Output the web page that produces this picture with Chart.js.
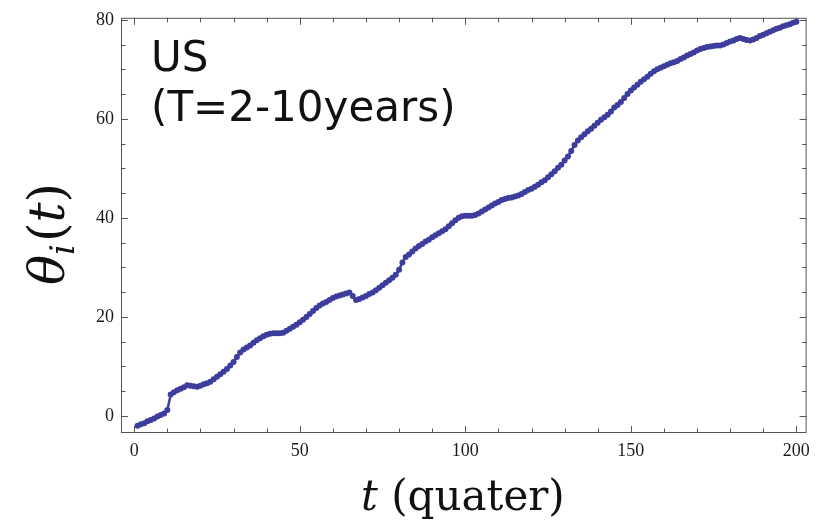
<!DOCTYPE html>
<html>
<head>
<meta charset="utf-8">
<script src="https://cdn.jsdelivr.net/npm/chart.js@4/dist/chart.umd.min.js"></script>
<style>
  html, body { margin: 0; padding: 0; background: #fff; }
  #wrap { width: 817px; height: 520px; }
</style>
</head>
<body>
<div id="wrap"><canvas id="c" width="817" height="520"></canvas></div>
<script>
// θ_i(t) for the US, T = 2-10 years, one value per quarter
const theta = [
  -2.0, -1.7, -1.5, -1.1, -0.8, -0.5, -0.1, 0.2, 0.5, 1.2,
  4.3, 4.8, 5.2, 5.5, 5.8, 6.2, 6.1, 6.0, 5.9, 6.1,
  6.4, 6.6, 6.9, 7.4, 7.9, 8.4, 8.9, 9.5, 10.2, 10.9,
  11.9, 12.8, 13.4, 13.8, 14.2, 14.8, 15.3, 15.7, 16.1, 16.4,
  16.6, 16.7, 16.7, 16.7, 16.8, 17.2, 17.6, 18.0, 18.4, 18.9,
  19.4, 20.0, 20.6, 21.2, 21.8, 22.3, 22.7, 23.0, 23.4, 23.8,
  24.1, 24.3, 24.5, 24.7, 24.9, 24.2, 23.4, 23.6, 23.9, 24.2,
  24.6, 24.9, 25.4, 25.9, 26.4, 26.9, 27.4, 27.9, 28.5, 29.5,
  31.0, 32.1, 32.6, 33.2, 33.8, 34.3, 34.7, 35.2, 35.6, 36.1,
  36.5, 36.9, 37.3, 37.7, 38.3, 38.9, 39.5, 40.0, 40.3, 40.4,
  40.4, 40.4, 40.6, 40.9, 41.3, 41.7, 42.1, 42.5, 42.9, 43.2,
  43.6, 43.8, 44.0, 44.1, 44.3, 44.5, 44.8, 45.2, 45.6, 45.9,
  46.3, 46.7, 47.2, 47.6, 48.2, 48.8, 49.4, 50.1, 50.7, 51.6,
  52.4, 53.5, 54.7, 55.6, 56.3, 56.9, 57.5, 58.0, 58.6, 59.2,
  59.8, 60.3, 60.8, 61.5, 62.3, 62.8, 63.4, 64.2, 65.0, 65.7,
  66.3, 66.9, 67.5, 68.0, 68.5, 69.1, 69.6, 70.0, 70.3, 70.6,
  70.9, 71.2, 71.4, 71.7, 72.1, 72.4, 72.8, 73.1, 73.4, 73.8,
  74.1, 74.3, 74.5, 74.6, 74.7, 74.8, 74.8, 75.0, 75.3, 75.6,
  75.8, 76.1, 76.3, 76.1, 75.9, 75.8, 76.0, 76.3, 76.7, 77.0,
  77.3, 77.6, 77.9, 78.2, 78.4, 78.7, 78.9, 79.1, 79.4, 79.6
];
// quarter index t = 1, 2, ...
const quarters = theta.map((_, i) => i + 1);

// labelled ticks and unlabelled minor ticks
const xTickLabels = [0, 50, 100, 150, 200];
const xMinorTicks = [0, 10, 20, 30, 40, 50, 60, 70, 80, 90, 100, 110, 120, 130, 140, 150, 160, 170, 180, 190, 200];
const yTickLabels = [0, 20, 40, 60, 80];
const yMinorTicks = [0, 5, 10, 15, 20, 25, 30, 35, 40, 45, 50, 55, 60, 65, 70, 75, 80];

const seriesColor = '#3d3d9d';
const frameColor = '#555555';

// closed frame with inward ticks on all four sides
const frameTicks = {
  id: 'frameTicks',
  beforeDatasetsDraw(chart) {
    const { ctx, chartArea: a, scales: { x, y } } = chart;
    ctx.save();
    ctx.strokeStyle = frameColor;
    ctx.lineWidth = 1;
    ctx.strokeRect(a.left + 0.5, a.top + 0.5, a.right - a.left - 1, a.bottom - a.top - 1);
    ctx.beginPath();
    xMinorTicks.forEach(v => {
      const px = Math.round(x.getPixelForValue(v)) + 0.5;
      const len = xTickLabels.includes(v) ? 7 : 4.5;
      ctx.moveTo(px, a.bottom); ctx.lineTo(px, a.bottom - len);
      ctx.moveTo(px, a.top); ctx.lineTo(px, a.top + len);
    });
    yMinorTicks.forEach(v => {
      const py = Math.round(y.getPixelForValue(v)) + 0.5;
      const len = yTickLabels.includes(v) ? 7 : 4.5;
      ctx.moveTo(a.left, py); ctx.lineTo(a.left + len, py);
      ctx.moveTo(a.right, py); ctx.lineTo(a.right - len, py);
    });
    ctx.stroke();
    ctx.restore();
  }
};

// draws a run of text pieces with their own fonts, left to right
function drawRuns(ctx, runs, x, y) {
  let cx = x;
  runs.forEach(r => {
    ctx.font = r.font;
    ctx.fillText(r.text, cx, y + (r.dy || 0));
    cx += ctx.measureText(r.text).width + (r.after || 0);
  });
  return cx - x;
}
function runsWidth(ctx, runs) {
  let w = 0;
  runs.forEach(r => { ctx.font = r.font; w += ctx.measureText(r.text).width + (r.after || 0); });
  return w;
}

const labels = {
  id: 'labels',
  afterDraw(chart) {
    const { ctx, chartArea: a } = chart;
    ctx.save();
    ctx.fillStyle = '#111';
    ctx.textBaseline = 'alphabetic';

    // panel caption
    ctx.font = '42px "DejaVu Sans"';
    ctx.fillText('US', 151, 71);
    ctx.fillText('(T=2-10years)', 151, 121);

    // x axis title
    const xRuns = [
      { text: 't', font: 'italic 42px "DejaVu Serif"' },
      { text: ' (quater)', font: '42px "DejaVu Serif"' }
    ];
    const xw = runsWidth(ctx, xRuns);
    drawRuns(ctx, xRuns, (a.left + a.right) / 2 - xw / 2 - 1, 510);

    // y axis title, rotated
    const yRuns = [
      { text: 'θ', font: 'italic 50px "DejaVu Serif"' },
      { text: 'i', font: 'italic 34px "DejaVu Serif"', dy: 10, after: 2 },
      { text: '(', font: '50px "DejaVu Serif"' },
      { text: 't', font: 'italic 50px "DejaVu Serif"' },
      { text: ')', font: '50px "DejaVu Serif"' }
    ];
    const yw = runsWidth(ctx, yRuns);
    ctx.translate(64, 234);
    ctx.rotate(-Math.PI / 2);
    drawRuns(ctx, yRuns, -yw / 2, 0);
    ctx.restore();
  }
};

new Chart(document.getElementById('c'), {
  type: 'line',
  data: {
    labels: quarters,
    datasets: [{
      data: theta,
      borderColor: seriesColor,
      backgroundColor: seriesColor,
      borderWidth: 2.5,
      pointRadius: 3,
      pointBorderWidth: 0,
      pointHoverRadius: 3,
      tension: 0,
      fill: false
    }]
  },
  options: {
    responsive: false,
    devicePixelRatio: 1,
    animation: false,
    events: [],
    layout: { padding: { left: 0, top: 13, right: 10, bottom: 0 } },
    plugins: { legend: { display: false }, tooltip: { enabled: false }, title: { display: false } },
    scales: {
      x: {
        type: 'linear',
        min: -4.0,
        max: 203.1,
        grid: { display: false, drawTicks: false },
        border: { display: false },
        afterBuildTicks: s => { s.ticks = xTickLabels.map(v => ({ value: v })); },
        afterFit: s => { s.height = 87; },
        ticks: {
          padding: 7,
          color: '#1a1a1a',
          font: { family: '"Liberation Serif"', size: 18 },
          maxRotation: 0,
          callback: v => String(v)
        }
      },
      y: {
        type: 'linear',
        min: -3.45,
        max: 80.4,
        grid: { display: false, drawTicks: false },
        border: { display: false },
        afterBuildTicks: s => { s.ticks = yTickLabels.map(v => ({ value: v })); },
        afterFit: s => { s.width = 121; },
        ticks: {
          padding: 7,
          color: '#1a1a1a',
          font: { family: '"Liberation Serif"', size: 18 },
          callback: v => String(v)
        }
      }
    }
  },
  plugins: [frameTicks, labels]
});
</script>
</body>
</html>
